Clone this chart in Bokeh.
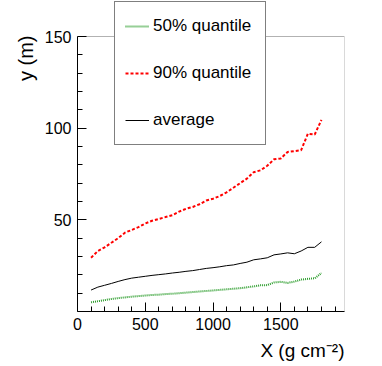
from bokeh.plotting import figure
from bokeh.models import (Range1d, FixedTicker, Legend, LegendItem, Title,
                          BoxAnnotation)
from bokeh.embed import file_html
from bokeh.resources import INLINE

x_vals = [100, 150, 200, 250, 300, 350, 400, 450, 500, 550, 600, 650, 700, 750,
          800, 850, 900, 950, 1000, 1050, 1100, 1150, 1200, 1250, 1300, 1350,
          1400, 1450, 1500, 1550, 1600, 1650, 1700, 1750, 1800]

q90 = [29.3, 33.0, 35.0, 37.5, 40.0, 43.0, 44.5, 46.0, 48.0, 49.5, 50.5, 51.5,
       52.5, 54.5, 56.0, 57.0, 58.5, 60.5, 61.5, 63.0, 65.0, 67.5, 70.0, 72.5,
       76.0, 77.0, 79.5, 83.0, 83.5, 87.0, 87.5, 88.0, 97.0, 96.5, 104.5]

avg = [11.7, 13.3, 14.3, 15.3, 16.4, 17.4, 18.2, 18.7, 19.2, 19.7, 20.1, 20.5,
       21.0, 21.4, 21.9, 22.3, 22.9, 23.5, 23.9, 24.4, 25.0, 25.4, 26.2, 26.9,
       28.2, 28.7, 29.3, 30.9, 31.4, 32.0, 31.5, 33.0, 35.0, 35.0, 38.0]

q50 = [5.0, 5.6, 6.2, 6.8, 7.3, 7.7, 8.1, 8.4, 8.7, 9.0, 9.2, 9.5, 9.7, 10.0,
       10.3, 10.6, 10.9, 11.2, 11.5, 11.8, 12.1, 12.4, 12.7, 13.2, 13.7, 14.3,
       14.4, 15.8, 16.2, 15.6, 16.3, 17.4, 17.8, 18.1, 21.0]

x_major = [0, 500, 1000, 1500]
x_minor = list(range(100, 2000, 100))
y_major = [50, 100, 150]
y_minor = list(range(10, 150, 10))
x_lim = (0, 1970)
y_lim = (0, 150)

FONT = "Liberation Sans"

# frame extends to the canvas top so the legend can overlap the plot box top
y_top = y_lim[1] * 311.0 / 275.0

p = figure(width=382, height=366, output_backend="svg", toolbar_location=None,
           x_range=Range1d(*x_lim), y_range=Range1d(y_lim[0], y_top),
           min_border_left=77, min_border_right=38, min_border_top=0,
           min_border_bottom=55)
p.grid.visible = False
p.outline_line_color = None
p.background_fill_color = "white"
p.border_fill_color = "white"

box = BoxAnnotation(left=x_lim[0], right=x_lim[1], bottom=y_lim[0], top=y_lim[1],
                    fill_alpha=0, line_color="black", line_width=1,
                    level="underlay")
p.add_layout(box)

for ax, maj, mino, standoff, lim in ((p.xaxis[0], x_major, x_minor, 6, x_lim),
                                     (p.yaxis[0], y_major, y_minor, 6, y_lim)):
    ax.ticker = FixedTicker(ticks=maj, minor_ticks=mino)
    ax.bounds = lim
    ax.major_tick_in = 9
    ax.major_tick_out = 0
    ax.minor_tick_in = 5
    ax.minor_tick_out = 0
    ax.axis_line_color = "black"
    ax.major_tick_line_color = "black"
    ax.minor_tick_line_color = "black"
    ax.major_label_text_font = FONT
    ax.major_label_text_font_size = "16px"
    ax.major_label_text_color = "black"
    ax.major_label_standoff = standoff

r50 = p.line(x_vals, q50, line_color="#2e9e2e", line_width=2, line_dash="1 1")
r90 = p.line(x_vals, q90, line_color="red", line_width=2, line_dash="3 2")
ravg = p.line(x_vals, avg, line_color="black", line_width=1)

legend = Legend(items=[LegendItem(label="50% quantile", renderers=[r50]),
                       LegendItem(label="90% quantile", renderers=[r90]),
                       LegendItem(label="average", renderers=[ravg])],
                location=(37, 166), padding=10, spacing=19,
                glyph_height=28, label_height=28, glyph_width=24,
                label_width=102, label_standoff=4,
                label_text_font=FONT, label_text_font_size="17px",
                label_text_color="black",
                border_line_color="black", border_line_width=1,
                background_fill_color="white", background_fill_alpha=1.0)
p.add_layout(legend, "center")

ytitle = Title(text="y (m)", align="right", offset=35, text_font=FONT,
               text_font_size="20px", text_font_style="normal",
               text_color="black")
xtitle = Title(text="X (g cm\u207b\u00b2)", align="right", text_font=FONT,
               text_font_size="19px", text_font_style="normal",
               text_color="black")
p.add_layout(ytitle, "left")
p.add_layout(xtitle, "below")

open("out.html", "w").write(file_html(p, INLINE))
